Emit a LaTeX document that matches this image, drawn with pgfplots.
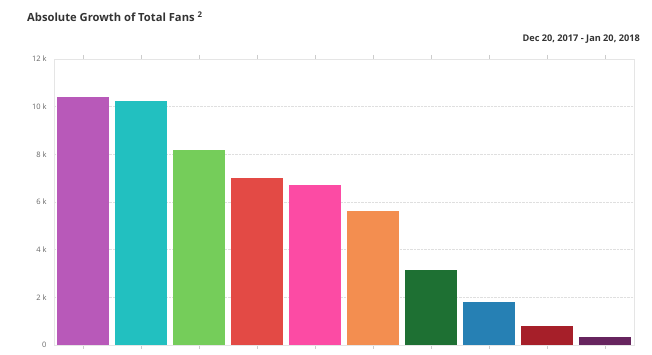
\documentclass[border=0pt]{standalone}
\usepackage{fontspec}
\setmainfont{Open Sans}
\usepackage{pgfplots}
\pgfplotsset{compat=1.18}
\definecolor{c1}{HTML}{B859B9}
\definecolor{c2}{HTML}{22C0C0}
\definecolor{c3}{HTML}{75CD5A}
\definecolor{c4}{HTML}{E34A45}
\definecolor{c5}{HTML}{FC4BA4}
\definecolor{c6}{HTML}{F38E50}
\definecolor{c7}{HTML}{1E7033}
\definecolor{c8}{HTML}{2680B4}
\definecolor{c9}{HTML}{A61F29}
\definecolor{c10}{HTML}{66245E}
\definecolor{titlec}{HTML}{333333}
\definecolor{tickc}{HTML}{666666}
\begin{document}
\begin{tikzpicture}
\path[use as bounding box] (0,0) rectangle (652pt,355pt);
\node[anchor=west,font=\fontsize{11.2}{13}\selectfont\bfseries,text=titlec,inner sep=0] at (27pt,338pt) {Absolute Growth of Total Fans \textsuperscript{2}};
\node[anchor=east,font=\fontsize{9.2}{11}\selectfont\bfseries,text=titlec,inner sep=0] at (640pt,316pt) {Dec 20, 2017 - Jan 20, 2018};
\begin{axis}[
  at={(54pt,10pt)}, anchor=south west,
  scale only axis, width=580pt, height=286pt,
  xmin=-0.5, xmax=9.5, ymin=0, ymax=12000,
  ybar, bar width=52pt, bar shift=0pt,
  xtick={0,...,9}, xticklabels={},
  x tick style={draw=gray!40, line width=0.5pt},
  major tick length=4pt, tick align=outside,
  ytick={0,2000,4000,6000,8000,10000,12000},
  yticklabels={0,2 k,4 k,6 k,8 k,10 k,12 k},
  y tick style={draw=none},
  yticklabel style={font=\fontsize{7.5}{9}\selectfont, text=tickc},
  ymajorgrids, grid style={densely dotted, gray!25},
  axis line style={draw=gray!20, line width=0.8pt},
  scaled y ticks=false,
]
\addplot[fill=c1, draw=none] coordinates {(0,10390)};
\addplot[fill=c2, draw=none] coordinates {(1,10240)};
\addplot[fill=c3, draw=none] coordinates {(2,8180)};
\addplot[fill=c4, draw=none] coordinates {(3,7000)};
\addplot[fill=c5, draw=none] coordinates {(4,6710)};
\addplot[fill=c6, draw=none] coordinates {(5,5620)};
\addplot[fill=c7, draw=none] coordinates {(6,3130)};
\addplot[fill=c8, draw=none] coordinates {(7,1790)};
\addplot[fill=c9, draw=none] coordinates {(8,800)};
\addplot[fill=c10, draw=none] coordinates {(9,340)};
\end{axis}
\end{tikzpicture}
\end{document}
